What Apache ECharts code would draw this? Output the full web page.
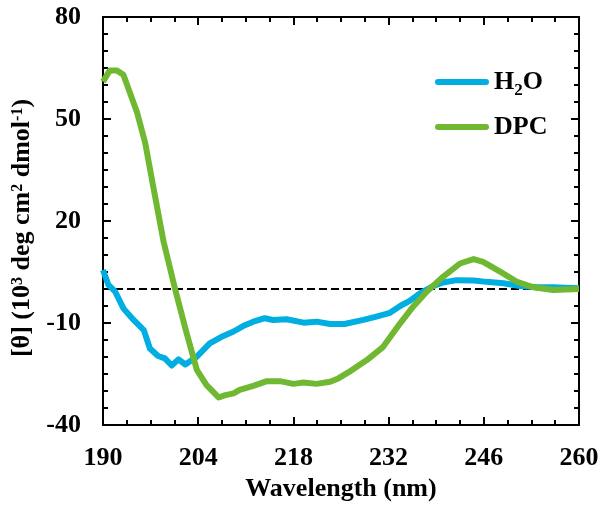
<!DOCTYPE html>
<html>
<head>
<meta charset="utf-8">
<script src="https://cdn.jsdelivr.net/npm/echarts@6/dist/echarts.min.js"></script>
<style>
  html, body { margin: 0; padding: 0; background: #fff; }
  #chart { width: 603px; height: 512px; }
</style>
</head>
<body>
<div id="chart"></div>
<script>
// CD spectra, values
const h2oWl = [190, 190.8, 191.8, 193, 194.5, 196, 196.9, 198.1, 199.1, 200.1, 201.1, 202.1, 203.8, 205.7, 207.7, 209.2, 210.6, 212.1, 213.8, 215, 217, 219.5, 221.4, 223.4, 225.5, 228.3, 230.2, 232.2, 233.7, 235.1, 236.6, 238.6, 240, 242, 244.5, 246.4, 248.9, 251.3, 253.8, 256.2, 260];
const h2oTheta = [5.6, 1.2, -0.8, -5.7, -9.1, -12.1, -17.5, -19.7, -20.4, -22.5, -20.7, -22.2, -19.9, -16, -13.8, -12.5, -10.9, -9.6, -8.6, -9.1, -8.9, -9.9, -9.6, -10.3, -10.3, -9.1, -8.1, -7, -5, -3.5, -1.3, 0.9, 1.9, 2.6, 2.5, 2.1, 1.7, 0.9, 0.5, 0.5, 0.2];

const dpcWl = [190, 191, 192, 193, 194, 195, 196.2, 197.4, 198.9, 200.6, 202.3, 203.8, 205.2, 207, 208, 209.2, 210.1, 212.1, 214.1, 216, 218, 219.5, 221.4, 223.4, 224.6, 226.5, 228.8, 231.2, 233.7, 235.6, 237.6, 240, 242.5, 244.5, 245.9, 248.4, 250.8, 253.3, 256.2, 260];
const dpcTheta = [61, 64.3, 64.3, 63, 57.5, 52, 43, 30, 14, 0, -13, -23.8, -28.2, -31.9, -31.2, -30.7, -29.7, -28.5, -27.1, -27.1, -27.9, -27.5, -27.9, -27.3, -26.3, -24, -20.9, -17, -10.1, -5.2, -0.8, 3.6, 7.5, 8.8, 8, 5.1, 2.2, 0.5, -0.3, 0];

const zeroWl = [190, 260];
const zeroTheta = [0, 0];

// labels every 14 nm / 30 units; tick marks (end ticks sit on the frame)
const xLabelStep = 14;
const yLabelStep = 30;
const xMajor = [204, 218, 232, 246];
const xMinor = [193.5, 197, 200.5, 207.5, 211, 214.5, 221.5, 225, 228.5, 235.5, 239, 242.5, 249.5, 253, 256.5];
const yMajor = [-10, 20, 50];
const yMinor = [-35, -30, -25, -20, -15, -5, 0, 5, 10, 15, 25, 30, 35, 40, 45, 55, 60, 65, 70, 75];

const pairs = (xs, ys) => xs.map((x, i) => [x, ys[i]]);
const font = "'Liberation Serif', 'Times New Roman', serif";

// tick-only axes (no line, no labels)
const tickAxis = (position, min, max, ticks, len) => ({
  type: 'value', position, min, max,
  axisLine: { show: false, onZero: false },
  axisTick: { show: true, inside: true, length: len, customValues: ticks, lineStyle: { color: '#000', width: 2 } },
  axisLabel: { show: false },
  splitLine: { show: false }
});
// frame axes: line (+ labels on bottom/left)
const frameAxis = (position, min, max) => ({
  type: 'value', position, min, max,
  axisLine: { show: true, onZero: false, lineStyle: { color: '#000', width: 2 } },
  axisTick: { show: false },
  axisLabel: { show: false },
  splitLine: { show: false }
});

const labelStyle = { fontFamily: font, fontWeight: 'bold', fontSize: 26, color: '#000' };

const xBottom = frameAxis('bottom', 190, 260);
xBottom.interval = 2;
xBottom.axisLabel = Object.assign({
  show: true, margin: 20,
  formatter: v => ((v - 190) % xLabelStep === 0 ? String(v) : '')
}, labelStyle);
xBottom.name = 'Wavelength (nm)';
xBottom.nameLocation = 'middle';
xBottom.nameGap = 48;
xBottom.nameTextStyle = Object.assign({}, labelStyle);

const yLeft = frameAxis('left', -40, 80);
yLeft.interval = 10;
yLeft.axisLabel = Object.assign({
  show: true, margin: 22,
  formatter: v => ((v + 40) % yLabelStep === 0 ? String(v) : '')
}, labelStyle);
yLeft.name = '[θ] (10{sup|3} deg cm{sup|2} dmol{sup|-1})';
yLeft.nameLocation = 'middle';
yLeft.nameGap = 64;
yLeft.nameTextStyle = Object.assign({
  padding: [0, 14, 0, 0],
  rich: { sup: { fontFamily: font, fontWeight: 'bold', fontSize: 16, color: '#000', verticalAlign: 'top' } }
}, labelStyle);

const chart = echarts.init(document.getElementById('chart'));
chart.setOption({
  animation: false,
  backgroundColor: '#fff',
  grid: { left: 103, right: 24, top: 17, bottom: 87 },
  xAxis: [
    xBottom,
    frameAxis('top', 190, 260),
    tickAxis('bottom', 190, 260, xMajor, 8),
    tickAxis('bottom', 190, 260, xMinor, 5),
    tickAxis('top', 190, 260, xMajor, 8),
    tickAxis('top', 190, 260, xMinor, 5)
  ],
  yAxis: [
    yLeft,
    frameAxis('right', -40, 80),
    tickAxis('left', -40, 80, yMajor, 8),
    tickAxis('left', -40, 80, yMinor, 5),
    tickAxis('right', -40, 80, yMajor, 8),
    tickAxis('right', -40, 80, yMinor, 5)
  ],
  legend: {
    orient: 'vertical', left: 430, top: 60,
    itemWidth: 54, itemHeight: 6, itemGap: 11,
    icon: 'path://M3,0H51A3,3,0,0,1,51,6H3A3,3,0,0,1,3,0Z',
    data: ['H2O', 'DPC'],
    formatter: n => n === 'H2O' ? 'H{sub|2}O' : n,
    textStyle: {
      fontFamily: font, fontWeight: 'bold', fontSize: 26, color: '#000', lineHeight: 34,
      rich: { sub: { fontFamily: font, fontWeight: 'bold', fontSize: 17, color: '#000', lineHeight: 17, verticalAlign: 'bottom' } }
    }
  },
  series: [
    {
      name: 'zero', type: 'line', xAxisIndex: 0, yAxisIndex: 0,
      data: pairs(zeroWl, zeroTheta), showSymbol: false, silent: true,
      lineStyle: { color: '#000', width: 2, type: [8, 4] }
    },
    {
      name: 'H2O', type: 'line', xAxisIndex: 0, yAxisIndex: 0,
      data: pairs(h2oWl, h2oTheta), showSymbol: false,
      itemStyle: { color: '#00AEE2' },
      lineStyle: { color: '#00AEE2', width: 6, join: 'round' }
    },
    {
      name: 'DPC', type: 'line', xAxisIndex: 0, yAxisIndex: 0,
      data: pairs(dpcWl, dpcTheta), showSymbol: false,
      itemStyle: { color: '#70B832' },
      lineStyle: { color: '#70B832', width: 6, join: 'round' }
    }
  ]
});
</script>
</body>
</html>
